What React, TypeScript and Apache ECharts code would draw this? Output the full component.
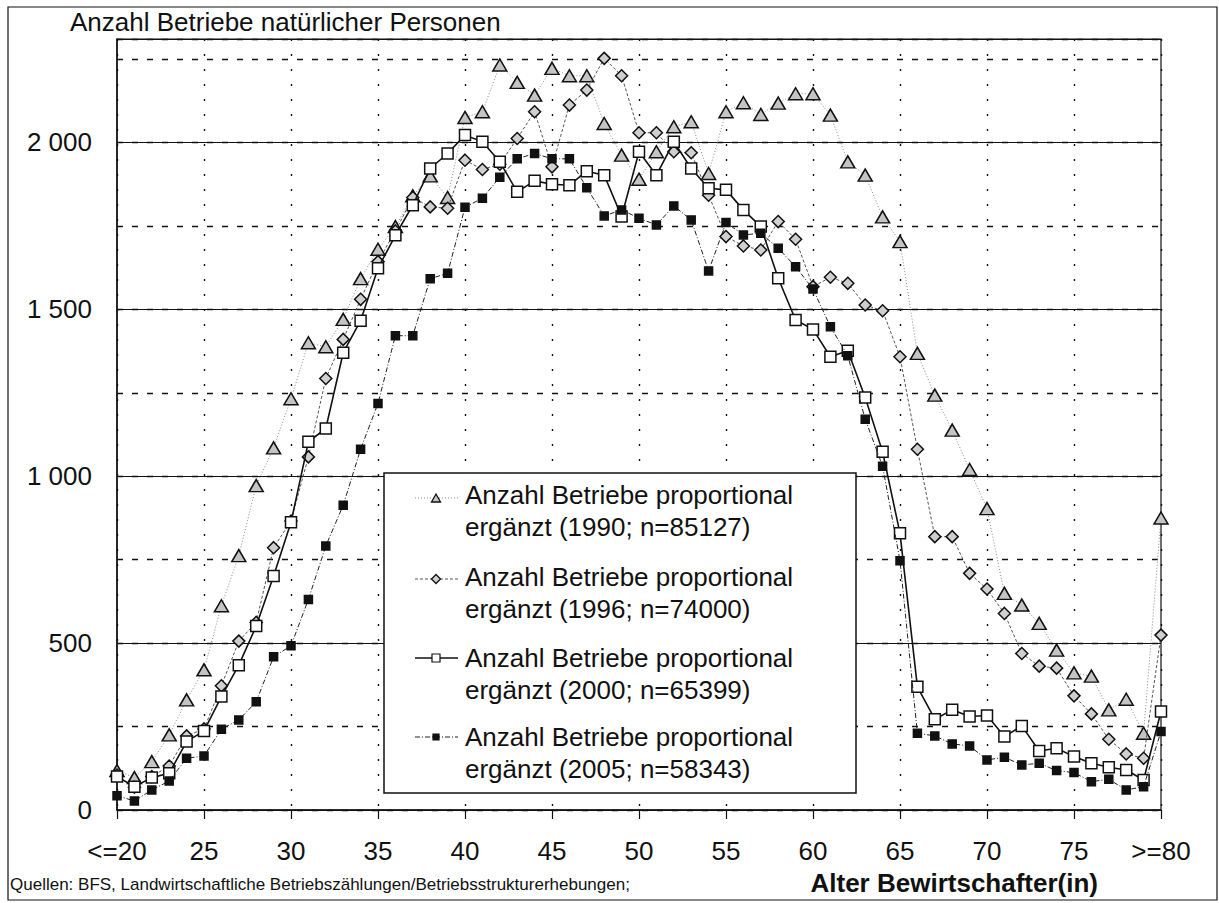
import React, { useEffect, useRef } from "react";
import * as echarts from "echarts";

// Age categories (Alter Bewirtschafter(in))
const ageLabels = [
  "<=20", "21", "22", "23", "24", "25", "26", "27", "28", "29",
  "30", "31", "32", "33", "34", "35", "36", "37", "38", "39",
  "40", "41", "42", "43", "44", "45", "46", "47", "48", "49",
  "50", "51", "52", "53", "54", "55", "56", "57", "58", "59",
  "60", "61", "62", "63", "64", "65", "66", "67", "68", "69",
  "70", "71", "72", "73", "74", "75", "76", "77", "78", "79",
  ">=80",
];

const values1990 = [
  118, 97, 145, 225, 330, 420, 612, 762, 972, 1085,
  1232, 1400, 1388, 1470, 1592, 1680, 1748, 1840, 1900, 1835,
  2075, 2092, 2232, 2180, 2142, 2222, 2200, 2200, 2057, 1962,
  1890, 1972, 2047, 2062, 1907, 2092, 2119, 2084, 2118, 2146,
  2146, 2082, 1942, 1902, 1777, 1703, 1368, 1243, 1138, 1020,
  903, 649, 614, 559, 479, 411, 401, 300, 332, 230,
  875,
];

const values1996 = [
  105, 68, 100, 132, 222, 243, 372, 506, 562, 786,
  866, 1058, 1293, 1410, 1530, 1643, 1735, 1835, 1807, 1803,
  1947, 1919, 1935, 2012, 2092, 1927, 2112, 2157, 2252, 2200,
  2029, 2029, 1972, 1969, 1842, 1718, 1690, 1678, 1763, 1710,
  1568, 1596, 1578, 1513, 1496, 1358, 1081, 819, 819, 709,
  662, 589, 469, 431, 425, 342, 288, 212, 168, 155,
  524,
];

const values2000 = [
  100, 70, 97, 110, 205, 237, 340, 434, 551, 701,
  862, 1103, 1143, 1370, 1466, 1623, 1722, 1812, 1922, 1967,
  2022, 2002, 1942, 1852, 1885, 1875, 1872, 1914, 1902, 1778,
  1972, 1902, 2002, 1922, 1863, 1858, 1798, 1748, 1593, 1468,
  1440, 1358, 1376, 1236, 1073, 829, 369, 272, 300, 280,
  283, 220, 252, 177, 185, 160, 140, 128, 120, 90,
  295,
];

const values2005 = [
  43, 27, 60, 87, 155, 162, 242, 270, 324, 459,
  492, 631, 791, 913, 1081, 1218, 1421, 1421, 1592, 1608,
  1806, 1833, 1896, 1951, 1967, 1951, 1951, 1864, 1780, 1798,
  1773, 1753, 1810, 1768, 1615, 1760, 1723, 1728, 1683, 1628,
  1561, 1448, 1361, 1171, 1030, 747, 230, 222, 198, 192,
  150, 158, 135, 140, 118, 112, 85, 92, 60, 70,
  235,
];

const seriesNames = [
  ["Anzahl Betriebe proportional", "ergänzt (1990; n=85127)"],
  ["Anzahl Betriebe proportional", "ergänzt (1996; n=74000)"],
  ["Anzahl Betriebe proportional", "ergänzt (2000; n=65399)"],
  ["Anzahl Betriebe proportional", "ergänzt (2005; n=58343)"],
];

const yTitle = "Anzahl Betriebe natürlicher Personen";
const xTitle = "Alter Bewirtschafter(in)";
const sourceNote =
  "Quellen: BFS, Landwirtschaftliche Betriebszählungen/Betriebsstrukturerhebungen;";

const Y_MAX = 2310;

const SANS = "'Liberation Sans', Arial, sans-serif";

function fmtY(v: number): string {
  if (v % 500 !== 0 || v > 2000) return "";
  if (v >= 1000) {
    const th = Math.floor(v / 1000);
    const rest = String(v % 1000).padStart(3, "0");
    return th + " " + rest;
  }
  return String(v);
}

const styles = [
  {
    symbol: "triangle",
    symbolSize: [14, 12],
    fill: "#c4c4c4",
    border: "#111",
    line: { color: "#888", width: 1, type: [1, 2] as any },
  },
  {
    symbol: "diamond",
    symbolSize: [12, 12],
    fill: "#cfcfcf",
    border: "#111",
    line: { color: "#555", width: 1, type: [3, 2] as any },
  },
  {
    symbol: "rect",
    symbolSize: [11, 11],
    fill: "#ffffff",
    border: "#111",
    line: { color: "#111", width: 1.6, type: "solid" as any },
  },
  {
    symbol: "rect",
    symbolSize: [8, 8],
    fill: "#111",
    border: "#111",
    line: { color: "#222", width: 1, type: [5, 2, 1, 2] as any },
  },
];

function legendGraphics(): any[] {
  const left = 384;
  const top = 473;
  const right = 856;
  const bottom = 793;
  const firstLineY = [495, 577, 658, 737];
  const iconY = [498, 579, 658, 737];
  const els: any[] = [
    {
      type: "rect",
      shape: { x: left, y: top, width: right - left, height: bottom - top },
      style: { fill: "#fff", stroke: "#111", lineWidth: 1.5 },
      z: 50,
    },
  ];
  seriesNames.forEach((lines, i) => {
    const st = styles[i];
    const cy = iconY[i];
    els.push({
      type: "line",
      shape: { x1: 415, y1: cy, x2: 458, y2: cy },
      style: {
        stroke: st.line.color,
        lineWidth: st.line.width,
        lineDash: Array.isArray(st.line.type) ? st.line.type : null,
      },
      z: 51,
    });
    const cx = 436;
    if (st.symbol === "triangle") {
      els.push({
        type: "polygon",
        shape: { points: [[cx, cy - 4], [cx + 4.5, cy + 4], [cx - 4.5, cy + 4]] },
        style: { fill: st.fill, stroke: st.border, lineWidth: 1.3 },
        z: 52,
      });
    } else if (st.symbol === "diamond") {
      els.push({
        type: "polygon",
        shape: { points: [[cx, cy - 4.5], [cx + 4.5, cy], [cx, cy + 4.5], [cx - 4.5, cy]] },
        style: { fill: st.fill, stroke: st.border, lineWidth: 1.3 },
        z: 52,
      });
    } else {
      const s = i === 2 ? 8 : 6;
      els.push({
        type: "rect",
        shape: { x: cx - s / 2, y: cy - s / 2, width: s, height: s },
        style: { fill: st.fill, stroke: st.border, lineWidth: 1.2 },
        z: 52,
      });
    }
    lines.forEach((t, j) => {
      els.push({
        type: "text",
        x: 465,
        y: firstLineY[i] + j * 31.7,
        style: {
          text: t,
          font: "26px " + SANS,
          fill: "#111",
          verticalAlign: "middle",
        },
        z: 52,
      });
    });
  });
  return els;
}

export default function App() {
  const ref = useRef<HTMLDivElement>(null);

  useEffect(() => {
    if (!ref.current) return;
    const chart = echarts.init(ref.current, undefined, {
      renderer: "svg",
      width: 1219,
      height: 903,
    });

    const dataSets = [values1990, values1996, values2000, values2005];

    const option: any = {
      animation: false,
      backgroundColor: "#ffffff",
      grid: {
        left: 117,
        right: 1219 - 1161,
        top: 39,
        bottom: 903 - 810,
        show: true,
        borderColor: "#111",
        borderWidth: 1.2,
        backgroundColor: "#fff",
        containLabel: false,
      },
      xAxis: {
        type: "category",
        data: ageLabels,
        boundaryGap: false,
        axisLine: { show: true, lineStyle: { color: "#111", width: 1.5 } },
        axisTick: { show: true, interval: 4, length: 9, lineStyle: { color: "#111", width: 1.2 } },
        axisLabel: {
          interval: 4,
          margin: 28,
          color: "#111",
          fontSize: 26,
          lineHeight: 26,
          fontFamily: SANS,
        },
        splitLine: {
          show: true,
          interval: 4,
          lineStyle: { color: "#111", width: 1.4, type: [2, 13] },
        },
      },
      yAxis: [
        {
          type: "value",
          min: 0,
          max: Y_MAX,
          interval: 250,
          axisLine: { show: true, lineStyle: { color: "#111", width: 1.5 } },
          axisTick: { show: false },
          axisLabel: {
            formatter: (v: number) => fmtY(v),
            margin: 25,
            color: "#111",
            fontSize: 26,
            fontFamily: SANS,
          },
          splitLine: {
            show: true,
            lineStyle: { color: "#111", width: 1.4, type: [6, 9] },
          },
        },
        {
          type: "value",
          min: 0,
          max: Y_MAX,
          interval: 500,
          position: "left",
          axisLine: { show: false },
          axisTick: { show: false },
          axisLabel: { show: false },
          splitLine: {
            show: true,
            lineStyle: { color: "#111", width: 1.2, type: "solid" },
          },
        },
      ],
      series: dataSets.map((d, i) => ({
        name: seriesNames[i].join(" "),
        type: "line",
        yAxisIndex: 0,
        data: d,
        symbol: styles[i].symbol,
        symbolSize: styles[i].symbolSize,
        showAllSymbol: true,
        itemStyle: { color: styles[i].fill, borderColor: styles[i].border, borderWidth: 1.5 },
        lineStyle: {
          color: styles[i].line.color,
          width: styles[i].line.width,
          type: styles[i].line.type,
        },
        z: 10 + i,
      })),
      graphic: [
        {
          type: "rect",
          shape: { x: 8, y: 7, width: 1209, height: 893 },
          style: { fill: "none", stroke: "#111", lineWidth: 1.2 },
          z: 1,
          silent: true,
        },
        {
          type: "text",
          x: 70,
          y: 22,
          style: {
            text: yTitle,
            font: "26px " + SANS,
            fill: "#111",
            verticalAlign: "middle",
          },
        },
        {
          type: "text",
          x: 1098,
          y: 883,
          style: {
            text: xTitle,
            font: "bold 26px " + SANS,
            fill: "#111",
            align: "right",
            verticalAlign: "middle",
          },
        },
        {
          type: "text",
          x: 10,
          y: 884,
          style: {
            text: sourceNote,
            font: "17px " + SANS,
            fill: "#111",
            verticalAlign: "middle",
          },
        },
        ...legendGraphics(),
      ],
    };

    chart.setOption(option);
    return () => chart.dispose();
  }, []);

  return (
    <div
      ref={ref}
      style={{ position: "fixed", left: 0, top: 0, width: 1219, height: 903, background: "#fff" }}
    />
  );
}
